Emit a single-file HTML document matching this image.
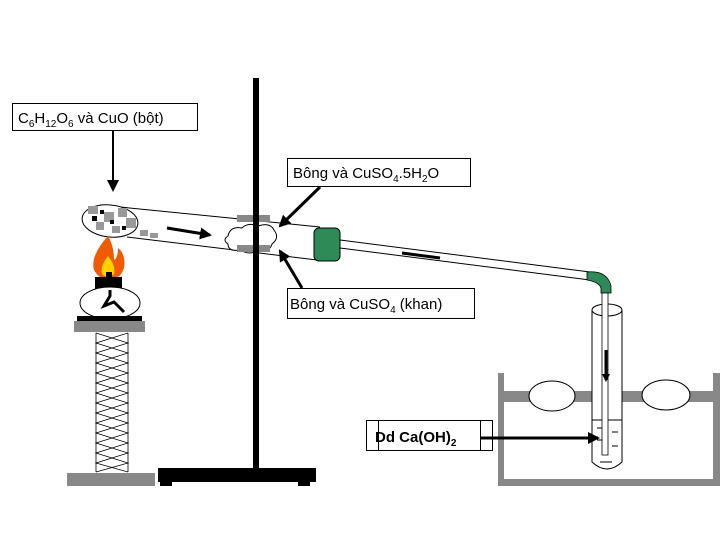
<!DOCTYPE html>
<html><head><style>body{margin:0;background:#fff}svg{display:block}text{font-family:"Liberation Sans",sans-serif;font-size:15px}</style></head><body>
<svg width="720" height="540" viewBox="0 0 720 540">
<defs><marker id="a" markerWidth="8" markerHeight="8" refX="6" refY="4" orient="auto" markerUnits="userSpaceOnUse"><path d="M0,0 L8,4 L0,8z" fill="#000"/></marker>
<marker id="b" markerWidth="12" markerHeight="12" refX="10" refY="6" orient="auto" markerUnits="userSpaceOnUse"><path d="M0,0 L12,6 L0,12z" fill="#000"/></marker></defs>
<!-- stand -->
<rect x="253" y="78" width="6" height="400" fill="#000"/>
<rect x="158" y="468" width="158" height="14" fill="#000"/>
<rect x="160" y="480" width="12" height="6" fill="#000"/><rect x="298" y="480" width="12" height="6" fill="#000"/>
<!-- tube -->
<path d="M100,205 L320,227 M127,237 L317,260" stroke="#000" fill="none"/>
<ellipse cx="110" cy="221" rx="28" ry="16" fill="#fff" stroke="#000" transform="rotate(6 110 221)"/>
<g fill="#999"><rect x="88" y="206" width="10" height="8"/><rect x="104" y="212" width="10" height="10"/><rect x="118" y="208" width="9" height="9"/><rect x="126" y="218" width="10" height="10"/><rect x="96" y="222" width="8" height="8"/><rect x="112" y="226" width="8" height="7"/><rect x="140" y="230" width="8" height="6"/><rect x="150" y="233" width="8" height="5"/></g>
<g fill="#000"><rect x="92" y="216" width="5" height="5"/><rect x="110" y="220" width="4" height="4"/><rect x="122" y="226" width="4" height="4"/><rect x="100" y="210" width="4" height="4"/></g>
<line x1="167" y1="228" x2="210" y2="235" stroke="#000" stroke-width="3" marker-end="url(#b)"/>
<path d="M228,236 q2,-10 14,-8 q6,-6 16,-2 q12,-4 16,4 q6,8 -2,14 q-2,8 -14,6 q-8,6 -18,0 q-12,2 -12,-6 q-6,-4 0,-8z" fill="#fff" stroke="#000" stroke-width="1"/>
<rect x="237" y="215" width="33" height="7" fill="#888"/><rect x="237" y="245" width="33" height="7" fill="#888"/>
<rect x="253" y="215" width="6" height="37" fill="#000"/>
<rect x="314" y="228" width="26" height="33" rx="5" fill="#2e8b57" stroke="#000"/>
<path d="M340,240 L590,272 M340,248 L590,280" stroke="#000" fill="none"/>
<line x1="402" y1="253" x2="440" y2="258" stroke="#000" stroke-width="3"/>
<path d="M587,272 q20,-2 24,14 l0,7 l-10,0 l0,-5 q-2,-6 -14,-8z" fill="#2e8b57" stroke="#000" stroke-width="0.8"/>
<!-- bath -->
<rect x="498" y="373" width="6" height="113" fill="#888"/><rect x="713" y="373" width="7" height="113" fill="#888"/>
<rect x="498" y="479" width="222" height="7" fill="#888"/>
<rect x="504" y="391" width="209" height="11" fill="#888"/>
<ellipse cx="552" cy="396" rx="23" ry="15" fill="#fff" stroke="#000"/>
<ellipse cx="666" cy="395" rx="24" ry="15" fill="#fff" stroke="#000"/>
<path d="M592,310 L592,462 q15,14 30,0 L622,310" fill="#fff" stroke="#000"/>
<ellipse cx="607" cy="310" rx="15" ry="6" fill="#fff" stroke="#000"/>
<line x1="592" y1="420" x2="622" y2="420" stroke="#000"/>
<g stroke="#000"><line x1="597" y1="428" x2="604" y2="428"/><line x1="597" y1="440" x2="604" y2="440"/><line x1="612" y1="432" x2="618" y2="432"/><line x1="612" y1="446" x2="618" y2="446"/><line x1="600" y1="462" x2="612" y2="462"/></g>
<rect x="602" y="293" width="6" height="162" fill="#fff" stroke="#000" stroke-width="0.8"/>
<line x1="606" y1="350" x2="606" y2="380" stroke="#000" stroke-width="3" marker-end="url(#a)"/>
<!-- burner -->
<path d="M108,236 q-18,20 -14,34 q6,10 14,10 q12,0 16,-12 q2,-14 -6,-20 q0,10 -4,12 q0,-14 -6,-24z" fill="#f05a00"/>
<path d="M108,256 q-8,10 -6,18 q6,6 12,0 q2,-8 -6,-18z" fill="#ffd200"/>
<rect x="95" y="277" width="27" height="12" fill="#000"/><rect x="106" y="272" width="6" height="8" fill="#000"/>
<ellipse cx="110" cy="303" rx="30" ry="16" fill="#fff" stroke="#000"/>
<path d="M110,290 l0,6 l-6,10 l10,-4 l10,10" stroke="#000" stroke-width="3" fill="none"/>
<rect x="77" y="316" width="65" height="5" fill="#000"/>
<rect x="74" y="321" width="71" height="11" fill="#888"/>
<path d="M96,333 L128,343 L96,353 L128,363 L96,373 L128,383 L96,393 L128,403 L96,413 L128,423 L96,433 L128,443 L96,453 L128,463 L96,472 M128,333 L96,343 L128,353 L96,363 L128,373 L96,383 L128,393 L96,403 L128,413 L96,423 L128,433 L96,443 L128,453 L96,463 L128,472 M96,333 V472 M128,333 V472" stroke="#000" fill="none" stroke-width="0.8"/>
<rect x="67" y="473" width="88" height="13" fill="#888"/>
<!-- labels -->
<rect x="12.5" y="103.5" width="185" height="27" fill="#fff" stroke="#000"/>
<text x="18" y="123">C<tspan font-size="10" dy="4">6</tspan><tspan dy="-4">H</tspan><tspan font-size="10" dy="4">12</tspan><tspan dy="-4">O</tspan><tspan font-size="10" dy="4">6</tspan><tspan dy="-4"> và CuO (bột)</tspan></text>
<line x1="113" y1="131" x2="113" y2="190" stroke="#000" stroke-width="2" marker-end="url(#b)"/>
<rect x="287.5" y="158.5" width="183" height="28" fill="#fff" stroke="#000"/>
<text x="293" y="178">Bông và CuSO<tspan font-size="10" dy="4">4</tspan><tspan dy="-4">.5H</tspan><tspan font-size="10" dy="4">2</tspan><tspan dy="-4">O</tspan></text>
<line x1="320" y1="187" x2="280" y2="226" stroke="#000" stroke-width="3" marker-end="url(#b)"/>
<rect x="287.5" y="288.5" width="187" height="30" fill="#fff" stroke="#000"/>
<text x="290" y="309">Bông và CuSO<tspan font-size="10" dy="4">4</tspan><tspan dy="-4"> (khan)</tspan></text>
<line x1="302" y1="288" x2="280" y2="251" stroke="#000" stroke-width="3" marker-end="url(#b)"/>
<rect x="366.5" y="420.5" width="126" height="30" fill="#fff" stroke="#000"/>
<line x1="378.5" y1="420" x2="378.5" y2="451" stroke="#000"/><line x1="480.5" y1="420" x2="480.5" y2="451" stroke="#000"/>
<text x="375" y="442" font-weight="bold">Dd Ca(OH)<tspan font-size="10" dy="4">2</tspan></text>
<line x1="481" y1="438" x2="598" y2="438" stroke="#000" stroke-width="3" marker-end="url(#b)"/>
</svg>
</body></html>
